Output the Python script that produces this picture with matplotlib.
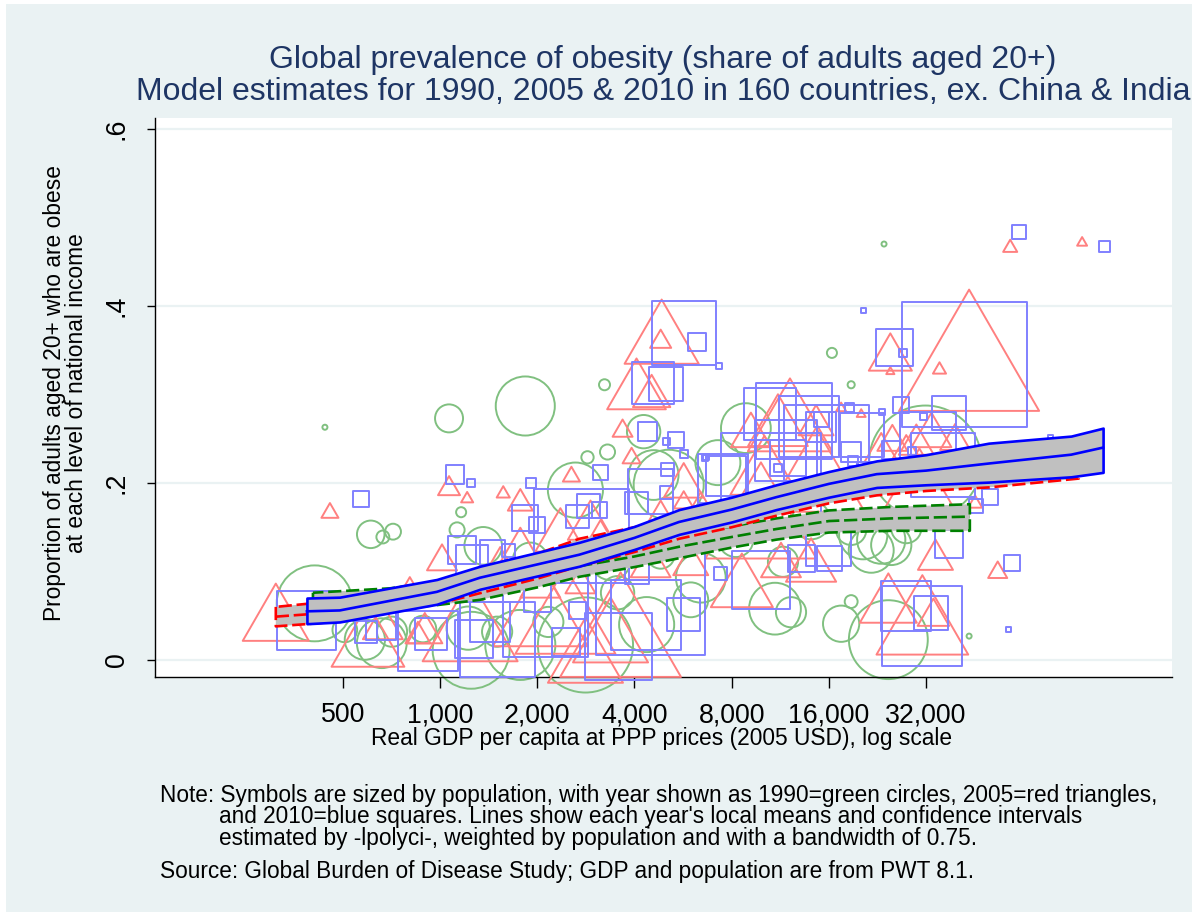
import numpy as np
import matplotlib
matplotlib.use('Agg')
from matplotlib import pyplot as plt
from matplotlib.path import Path
from matplotlib.patches import Rectangle
from matplotlib.ticker import NullLocator

plt.rcParams['font.family'] = ['Liberation Sans', 'DejaVu Sans']

# 1990 = green circles (gdp per capita, obesity share, population in millions)
gdp90 = [440, 409, 610, 665, 715, 1066, 1162, 1129, 1360, 660, 1248, 710, 885, 1502, 507, 585, 1222,
         1836, 2861, 3300, 3230, 2625, 4585, 4269, 8851, 7250, 2820, 4362, 1772, 5104, 6417, 3545, 2164,
         16346, 18750, 23700, 31830, 20430, 23230, 21630, 24950, 18750, 27770, 10890, 17455, 18750, 24440,
         43470, 11531, 12210, 1903, 3372, 5974, 8240, 4821, 9853, 14087]
ob90 = [.263, .064, .142, .139, .145, .273, .167, .147, .129, .019, .011, .032, .035, .032, .034, .023, .036,
        .287, .229, .235, .311, .192, .209, .258, .262, .223, .017, .040, .017, .198, .093, .076, .043,
        .347, .311, .470, .224, .141, .136, .124, .130, .147, .149, .058, .041, .066, .023,
        .027, .111, .054, .113, .113, .068, .136, .119, .158, .158]
pop90 = [0.5, 114, 15, 3.3, 5, 15.5, 2, 4.5, 28, 49, 117, 18, 14, 18, 12, 32, 37,
         69, 3, 4.5, 2.4, 60, 49, 22, 49, 40, 179, 60, 97, 97, 49, 22, 18,
         2, 1, 0.5, 250, 46, 46, 40, 32, 18, 18, 53, 26, 3.3, 123,
         0.5, 18, 18, 24, 32, 24, 24, 15.5, 18, 29]

# 2005 = red triangles
gdp05 = [310, 456, 1066, 1213, 1569, 1014, 598, 665, 897, 854, 1239, 4855, 4821, 4058, 4520, 3674, 2551,
         3918, 5682, 5682, 9173, 2358, 2923, 3622, 2444, 2044, 3372, 2820, 43470, 12120, 11125, 24790,
         35200, 20140, 17455, 25150, 29840, 23230, 27770, 33230, 39350, 30490, 24440, 31150, 33700, 34200,
         53300, 45370, 14599, 58270, 97300, 24790, 9853, 10100, 8601, 14599, 1772, 1536, 3139, 4821, 6417,
         7404, 5974, 4488, 2721, 2044, 1331, 806, 1772, 11368, 14087]
ob05 = [.054, .169, .197, .184, .190, .116, .028, .043, .036, .031, .045, .371, .363, .312, .304, .262, .210,
        .231, .203, .181, .260, .147, .158, .040, .056, .062, .034, .011, .350, .277, .271, .327,
        .330, .279, .286, .251, .249, .237, .232, .260, .252, .203, .070, .051, .054, .119,
        .102, .179, .271, .468, .473, .348, .169, .220, .090, .215, .130, .113, .141, .158, .175,
        .153, .113, .113, .090, .090, .090, .079, .181, .113, .113]
pop05 = [66, 4.4, 7.3, 2.2, 2.6, 13.6, 80, 24, 18.5, 9.4, 136, 83, 6.7, 52, 21, 6, 4.4,
         4.9, 24, 6, 24, 38, 31, 220, 151, 136, 85, 85, 296, 107, 54, 1,
         2.6, 1.2, 1.5, 13.6, 18.5, 24, 31, 24, 13.6, 82, 49, 127, 15, 18.5,
         5.5, 3, 18.5, 3, 1.5, 28, 186, 70, 58, 142, 24, 13.6, 18.5, 31, 13.6,
         24, 18.5, 24, 13.6, 24, 18.5, 13.6, 9.4, 24, 38]

# 2010 = blue squares
gdp10 = [387, 568, 1113, 1248, 1170, 1257, 589, 656, 917, 937, 1275, 1502, 1430, 3570, 4331, 4488, 2741,
         2118, 2461, 2663, 5682, 1917, 3139, 4393, 5366, 5032, 5682, 6650, 1836, 2000, 2663, 2881, 3117,
         4058, 4488, 5068, 5032, 7510, 10500, 12474, 15131, 9853, 7404, 13115, 16115, 25490, 27180, 20430,
         5682, 6232, 7300, 4553, 4996, 62170, 113800, 41960, 26800, 37700, 31380, 32530, 36130, 20285,
         18500, 23400, 18750, 24950, 28990, 50330, 45700, 37700, 59100, 57440, 31150, 27770, 33230, 16000,
         15131, 11779, 13878, 10583, 15680, 7672, 11948, 19020, 20580, 6600, 11125, 1450, 1626, 77470,
         4058, 2000]
ob10 = [.045, .182, .210, .200, .124, .112, .032, .040, .021, .029, .024, .023, .043, .015, .051, .067, .140,
        .051, .020, .056, .051, .200, .212, .258, .249, .247, .233, .229, .160, .153, .162, .174, .169,
        .177, .190, .215, .189, .205, .278, .270, .272, .090, .098, .115, .115, .353, .347, .395,
        .370, .359, .332, .313, .312, .484, .467, .334, .288, .279, .275, .249, .220, .254,
        .285, .280, .235, .237, .236, .184, .174, .131, .110, .035, .038, .061, .053, .132,
        .263, .237, .264, .200, .240, .208, .228, .225, .215, .228, .217, .122, .124, .251,
        .099, .070]
pop10 = [69, 5, 7, 1.3, 15.5, 20, 9.6, 18, 71, 20, 29, 111, 32, 89, 97, 235, 175,
         143, 15.5, 5.7, 21.6, 2, 4.5, 7, 5, 1, 1.3, 0.7, 13.4, 5, 10.5, 10.5, 5,
         9.6, 40, 3.3, 3.3, 49, 53, 114, 4.5, 67, 3.3, 14.4, 12.4, 27, 1.3, 0.5,
         81, 6.4, 0.7, 35, 23, 3.9, 2.4, 309, 5, 22, 1, 62, 81, 38,
         1.6, 0.7, 7.9, 6.4, 1.3, 5, 3.9, 15.5, 5, 0.5, 127, 49, 23, 40,
         18, 74, 73, 195, 143, 32, 26, 2, 4.5, 0.7, 1.3, 12.4, 3.3, 0.5,
         11.4, 14.4]

# local means and confidence intervals (lpolyci)
x90 = [404, 700, 977, 1330, 2000, 2700, 4000, 5500, 8000, 11000, 16000, 25000, 43700]
lo90 = [.054, .057, .062, .068, .082, .094, .105, .115, .127, .136, .144, .146, .146]
mid90 = [.065, .069, .075, .082, .095, .106, .117, .128, .139, .148, .157, .160, .162]
hi90 = [.076, .081, .088, .096, .108, .118, .129, .140, .151, .160, .169, .173, .176]

x05 = [310, 400, 500, 1000, 2000, 2700, 4000, 5500, 8000, 11000, 16000, 22500, 32000, 50000, 95000]
lo05 = [.038, .041, .044, .064, .092, .106, .122, .137, .150, .163, .177, .186, .191, .195, .205]
mid05 = [.049, .052, .055, .077, .106, .121, .136, .150, .163, .176, .190, .199, .204, .210, .219]
hi05 = [.060, .064, .067, .090, .120, .137, .150, .163, .176, .189, .203, .212, .218, .226, .235]

x10 = [387, 489, 977, 1330, 2700, 4000, 5500, 8000, 11000, 16000, 22500, 32000, 50000, 90000, 113000]
lo10 = [.041, .043, .063, .080, .106, .125, .142, .156, .170, .184, .195, .198, .201, .207, .212]
mid10 = [.055, .056, .077, .093, .119, .138, .156, .170, .184, .199, .210, .214, .222, .232, .240]
hi10 = [.070, .071, .091, .106, .133, .151, .170, .184, .198, .213, .225, .232, .245, .253, .262]

xticks = [500, 1000, 2000, 4000, 8000, 16000, 32000]
xticklabels = ['500', '1,000', '2,000', '4,000', '8,000', '16,000', '32,000']
yticks = [0, .2, .4, .6]
yticklabels = ['0', '.2', '.4', '.6']

bg = '#eaf2f3'
W, H = 1196., 916.

fig = plt.figure(figsize=(11.96, 9.16), dpi=100)
fig.patch.set_facecolor('white')
fig.add_artist(Rectangle((6 / W, 4 / H), 1186 / W, 908 / H, transform=fig.transFigure,
                         facecolor=bg, edgecolor='none', zorder=-1))

ax = fig.add_axes([155 / W, 1 - 677 / H, (1172 - 155) / W, (677 - 118) / H])
ax.set_facecolor('white')

def side_pt(pop):
    # marker side in points, area proportional to population
    return 125 * np.sqrt(np.asarray(pop, dtype=float) / 309.) * 0.72

tri = Path([(0, 0.433), (-0.5, -0.433), (0.5, -0.433), (0, 0.433)],
           [Path.MOVETO, Path.LINETO, Path.LINETO, Path.CLOSEPOLY])

mlw = 1.4
ax.scatter(gdp90, ob90, s=side_pt(pop90) ** 2, marker='o', facecolors='none',
           edgecolors='#80c080', linewidths=mlw, clip_on=False, zorder=2)
ax.scatter(gdp05, ob05, s=(1.145 * side_pt(pop05)) ** 2, marker=tri, facecolors='none',
           edgecolors='#ff8080', linewidths=mlw, clip_on=False, zorder=3)
ax.scatter(gdp10, ob10, s=side_pt(pop10) ** 2, marker='s', facecolors='none',
           edgecolors='#8080ff', linewidths=mlw, clip_on=False, zorder=4)

dash = (0, (5, 1.8))
llw = 1.9
ax.fill_between(x90, lo90, hi90, facecolor='#c0c0c0', edgecolor='#008000', linewidth=llw,
                linestyle=dash, zorder=5)
ax.plot(x90, mid90, color='#008000', lw=llw, ls=dash, zorder=6)
ax.fill_between(x05, lo05, hi05, facecolor='#c0c0c0', edgecolor='#ff0000', linewidth=llw,
                linestyle=dash, zorder=7)
ax.plot(x05, mid05, color='#ff0000', lw=llw, ls=dash, zorder=8)
ax.fill_between(x10, lo10, hi10, facecolor='#c0c0c0', edgecolor='#0000ff', linewidth=llw, zorder=9)
ax.plot(x10, mid10, color='#0000ff', lw=llw, zorder=10)

ax.set_xscale('log')
ax.set_xlim(131, 184700)
ax.set_ylim(-0.0192, 0.6124)
ax.set_xticks(xticks)
ax.set_xticklabels(xticklabels, fontsize=19.3)
ax.xaxis.set_minor_locator(NullLocator())
ax.set_yticks(yticks)
ax.set_yticklabels(yticklabels, fontsize=19.3, rotation=90, va='center')
ax.tick_params(axis='x', length=8, width=1, pad=10)
ax.tick_params(axis='y', length=6, width=1, pad=12)
ax.yaxis.grid(True, color=bg, lw=1.6)
ax.set_axisbelow(True)
for sp in ['top', 'right']:
    ax.spines[sp].set_visible(False)
for sp in ['left', 'bottom']:
    ax.spines[sp].set_linewidth(1)

title_col = '#1e3564'
fig.text(663 / W, 1 - 68 / H, 'Global prevalence of obesity (share of adults aged 20+)',
         ha='center', va='baseline', fontsize=23, color=title_col)
fig.text(663 / W, 1 - 100 / H, 'Model estimates for 1990, 2005 & 2010 in 160 countries, ex. China & India',
         ha='center', va='baseline', fontsize=23, color=title_col)

fig.text(662 / W, 1 - 745 / H, 'Real GDP per capita at PPP prices (2005 USD), log scale',
         ha='center', va='baseline', fontsize=16.4)
fig.text(55 / W, 1 - 393 / H, 'Proportion of adults aged 20+ who are obese',
         ha='center', va='center', rotation=90, fontsize=16.4)
fig.text(77 / W, 1 - 393 / H, 'at each level of national income',
         ha='center', va='center', rotation=90, fontsize=16.4)

nfs = 16.3
fig.text(160 / W, 1 - 802 / H,
         'Note: Symbols are sized by population, with year shown as 1990=green circles, 2005=red triangles,',
         va='baseline', fontsize=nfs)
fig.text(219 / W, 1 - 823 / H,
         "and 2010=blue squares. Lines show each year's local means and confidence intervals",
         va='baseline', fontsize=nfs)
fig.text(219 / W, 1 - 845 / H,
         'estimated by -lpolyci-, weighted by population and with a bandwidth of 0.75.',
         va='baseline', fontsize=nfs)
fig.text(160 / W, 1 - 878 / H,
         'Source: Global Burden of Disease Study; GDP and population are from PWT 8.1.',
         va='baseline', fontsize=nfs)

fig.savefig('out.png', dpi=100, facecolor=fig.get_facecolor())
